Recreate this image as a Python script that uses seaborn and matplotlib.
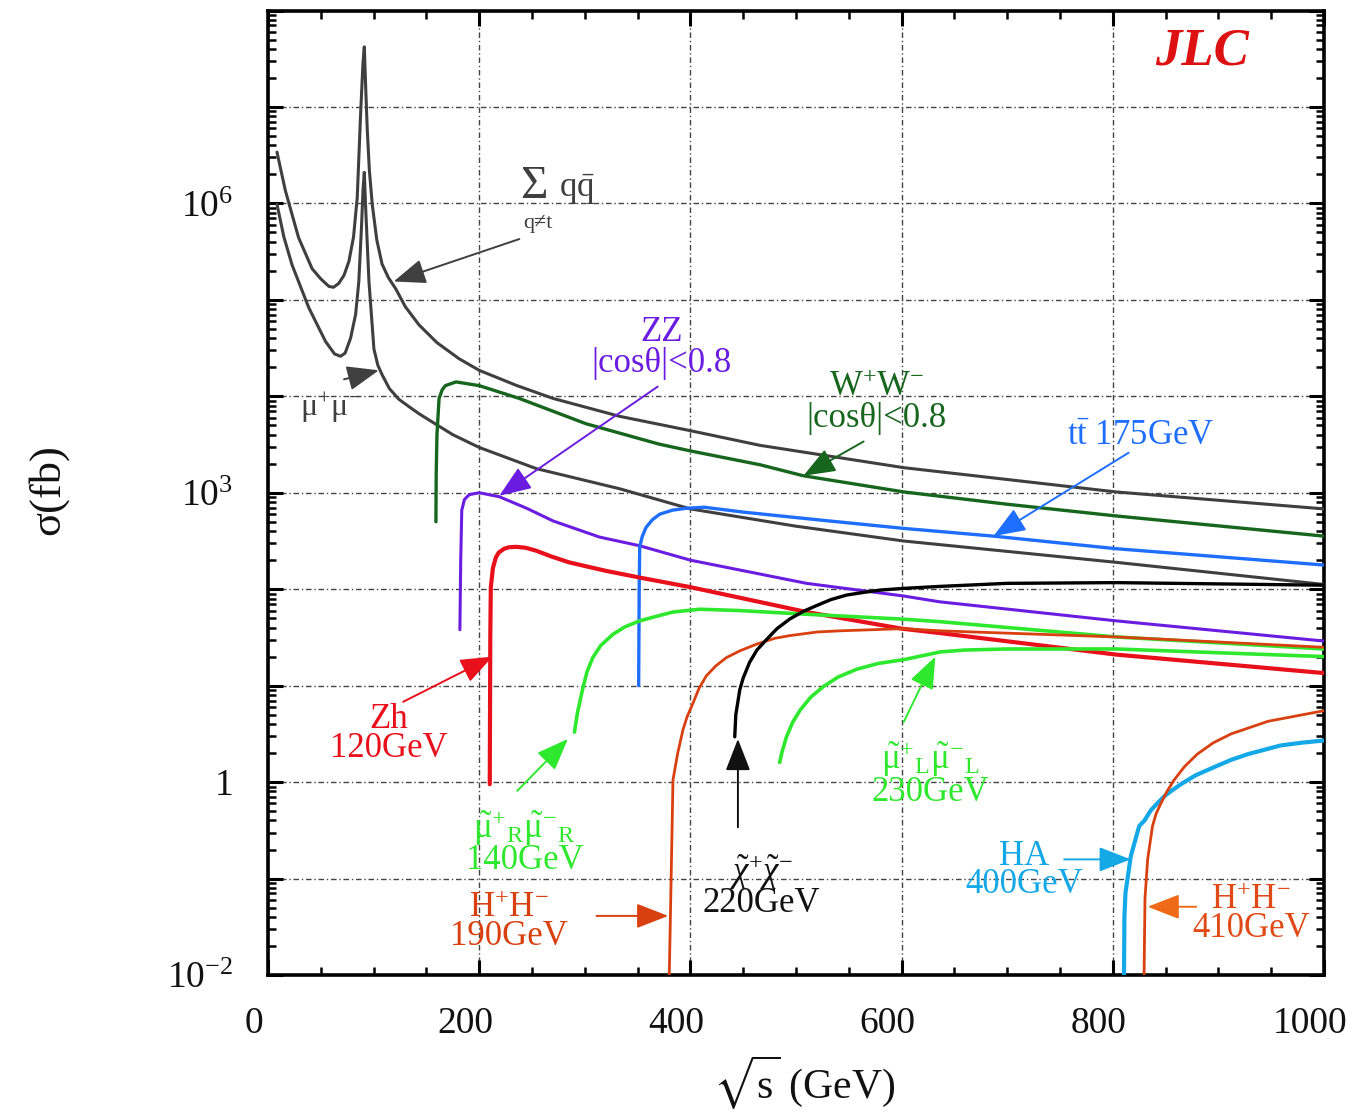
import numpy as np
import pandas as pd
import matplotlib
matplotlib.use("Agg")
import matplotlib.pyplot as plt
import seaborn as sns
from matplotlib.ticker import FixedLocator, FuncFormatter, NullFormatter
from matplotlib.transforms import ScaledTranslation

# ---------------- data (sqrt(s) in GeV, sigma in fb) ----------------
qq_x = [8.5, 16.5, 29, 41.8, 50, 57.6, 62, 67, 72, 76.6, 81, 84.5, 87.7, 89.9, 91.2, 92.5, 94, 96, 98.7,
        103, 108, 114, 121, 130, 143, 160, 181, 200, 235, 270, 333, 400, 466, 602, 803, 1000]
qq_y = [3.4e6, 1.35e6, 4.4e5, 2.1e5, 1.65e5, 1.38e5, 1.35e5, 1.48e5, 1.8e5, 2.5e5, 4.5e5, 1.15e6, 8.5e6, 2.8e7,
        4.2e7, 1.6e7, 5.8e6, 2.2e6, 9.8e5, 4.2e5, 2.35e5, 1.7e5, 1.3e5, 8.5e4, 5.5e4, 3.6e4, 2.45e4, 1.86e4,
        1.3e4, 9.5e3, 6.2e3, 4.4e3, 3.1e3, 1.82e3, 1.02e3, 680]

mumu_x = [8.5, 15, 22.8, 38.6, 54.5, 63, 68.7, 73, 78.2, 83, 86, 88.5, 90, 91.2, 92.5, 95.6, 100.3, 104,
          108.2, 115, 124, 135, 143, 155.7, 175, 200, 254, 333, 400, 500, 602, 803, 1000]
mumu_y = [9.8e5, 4.5e5, 2.3e5, 8.3e4, 3.7e4, 2.75e4, 2.6e4, 2.8e4, 4.0e4, 7.1e4, 1.55e5, 5.6e5, 1.4e6, 2.1e6,
          8.9e5, 1.55e5, 3.1e4, 2.1e4, 1.66e4, 1.2e4, 9.3e3, 7.6e3, 6.6e3, 5.4e3, 4.0e3, 2.95e3, 1.78e3, 1.1e3,
          680, 450, 316, 190, 112]

ww_x = [159, 159.3, 160, 162, 165, 168, 178, 200, 238, 301, 370, 401, 466, 507, 602, 700, 803, 1000]
ww_y = [500, 1580, 4000, 9500, 1.17e4, 1.29e4, 1.41e4, 1.29e4, 9.5e3, 5.2e3, 3.2e3, 2.7e3, 1.95e3, 1.5e3,
        1.02e3, 760, 575, 355]

zz_x = [181.7, 182.5, 183.5, 186, 190.5, 200, 219, 245, 270, 314, 352, 400, 510, 602, 636, 803, 1000]
zz_y = [38, 200, 660, 850, 955, 1000, 910, 690, 510, 347, 282, 200, 115, 85, 74, 47, 29]

zh_x = [210, 210.5, 211, 213, 215.8, 218.5, 223.7, 228, 234.8, 244, 253.8, 268, 285, 300, 320, 352, 400,
        510, 600, 637, 803, 1000]
zh_y = [0.95, 32, 105, 166, 214, 240, 263, 272, 275, 269, 251, 219, 190, 174, 155, 132, 105, 58, 39, 35,
        21, 13.5]

tt_x = [351, 351.5, 352, 354.5, 358, 364, 371, 383, 396, 413, 450, 520, 602, 687, 803, 1000]
tt_y = [10, 100, 275, 355, 437, 525, 600, 660, 690, 708, 630, 525, 427, 355, 263, 178]

smuR_x = [290.2, 293, 298, 302, 307.5, 315, 326.5, 338, 352, 367, 383.5, 409, 447, 510, 600, 637, 803, 1000]
smuR_y = [3.3, 5.2, 9.3, 13.8, 19.5, 26, 34, 40.7, 47, 52, 58, 62, 60, 55, 49, 46, 32, 24]

hh190_x = [380, 382, 383.5, 388, 393, 397, 402.5, 408, 415, 424, 434, 447, 463, 480, 494, 520, 541, 602,
           637, 803, 1000]
hh190_y = [0.01, 0.14, 1.05, 2.0, 3.5, 4.8, 6.6, 9.3, 12.6, 16, 19.5, 23, 27, 31, 33, 36, 37, 39, 37, 32, 25]

chi_x = [442, 443, 446.8, 450, 456, 463, 472, 482, 494, 507, 520, 533, 548, 565, 580, 602, 637, 700, 803, 1000]
chi_y = [2.95, 5, 9.1, 12, 17.4, 23.4, 30, 39, 49, 59, 68, 78, 87, 93, 98, 102, 107, 115, 117, 110]

smuL_x = [484.5, 487, 491, 497, 504, 514, 526, 540, 557.5, 578, 602, 637, 660, 700, 803, 1000]
smuL_y = [1.6, 2.1, 2.95, 4.2, 5.6, 7.6, 9.8, 12.3, 14.8, 17, 18.6, 22.4, 23.4, 24, 24, 20]

ha_x = [810.6, 811, 812, 817, 825, 830, 836, 842, 848.6, 856, 864.5, 878, 896, 912, 928, 959, 980, 1000]
ha_y = [0.01, 0.04, 0.071, 0.17, 0.35, 0.40, 0.51, 0.60, 0.71, 0.82, 0.95, 1.17, 1.43, 1.7, 1.95, 2.4,
        2.57, 2.7]

hh410_x = [829.6, 830.5, 833, 837.6, 841, 845.5, 851, 858, 868, 880, 895, 912, 947, 1000]
hh410_y = [0.01, 0.063, 0.158, 0.35, 0.47, 0.60, 0.79, 1.05, 1.45, 1.95, 2.55, 3.16, 4.27, 5.5]

x_ticks = [0, 200, 400, 600, 800, 1000]
x_ticklabels = ["0", "200", "400", "600", "800", "1000"]
y_labelled = {-2: r"$10^{-2}$", 0: "1", 3: r"$10^{3}$", 6: r"$10^{6}$"}

# ---------------- style ----------------
sns.set_theme(style="ticks")
plt.rcParams["font.family"] = ["Liberation Serif", "DejaVu Serif"]
plt.rcParams["mathtext.fontset"] = "custom"
plt.rcParams["mathtext.rm"] = "Liberation Serif"
plt.rcParams["mathtext.it"] = "Liberation Serif:italic"
plt.rcParams["mathtext.bf"] = "Liberation Serif:bold"
plt.rcParams["mathtext.fallback"] = "stix"

GRAY = "#3f3f3f"
WWC = "#17661e"
ZZC = "#6a1de0"
TTC = "#1e6eff"
ZHC = "#e8101a"
SLC = "#2ee82e"
HHC = "#d9400f"
HAC = "#14a8e6"

fig = plt.figure(figsize=(13.62, 11.16), dpi=100)
ax = fig.add_axes([268 / 1362, 1 - 975 / 1116, (1324 - 268) / 1362, (975 - 10.5) / 1116])
ax.set_yscale("log")

curves = [
    (qq_x, qq_y, GRAY, 2.2),
    (mumu_x, mumu_y, GRAY, 2.2),
    (ww_x, ww_y, WWC, 2.4),
    (zz_x, zz_y, ZZC, 2.2),
    (tt_x, tt_y, TTC, 2.4),
    (zh_x, zh_y, ZHC, 3.0),
    (smuR_x, smuR_y, SLC, 2.6),
    (hh190_x, hh190_y, HHC, 2.0),
    (chi_x, chi_y, "black", 2.4),
    (smuL_x, smuL_y, SLC, 2.6),
    (ha_x, ha_y, HAC, 3.0),
    (hh410_x, hh410_y, HHC, 2.0),
]
for cx, cy, col, lw in curves:
    df = pd.DataFrame({"x": cx, "y": cy})
    sns.lineplot(data=df, x="x", y="y", color=col, lw=lw, sort=False, estimator=None,
                 ax=ax, legend=False, zorder=3)

ax.set_xlim(0, 1000)
ax.set_ylim(1e-2, 1e8)

# ticks
ax.xaxis.set_major_locator(FixedLocator(x_ticks))
ax.set_xticklabels(x_ticklabels)
ax.xaxis.set_minor_locator(FixedLocator(np.arange(0, 1001, 50)))
decades = [10.0 ** k for k in range(-2, 9)]
ax.yaxis.set_major_locator(FixedLocator(decades))
minors = [m * 10.0 ** k for k in range(-2, 8) for m in range(2, 10)]
ax.yaxis.set_minor_locator(FixedLocator(minors))
ax.yaxis.set_minor_formatter(NullFormatter())


def yfmt(v, pos):
    k = int(round(np.log10(v)))
    return y_labelled.get(k, "")


ax.yaxis.set_major_formatter(FuncFormatter(yfmt))
ax.tick_params(which="major", direction="in", length=11, width=2.2, top=True, right=True,
               color="black", labelcolor="#111111")
ax.tick_params(which="minor", direction="in", length=6, width=1.8, top=True, right=True, color="black")
ax.tick_params(axis="x", which="major", labelsize=27, pad=23)
ax.tick_params(axis="y", which="major", labelsize=27, pad=25)
for lab in ax.get_xticklabels():
    lab.set_transform(lab.get_transform() + ScaledTranslation(-0.14, 0, fig.dpi_scale_trans))

for sp in ax.spines.values():
    sp.set_linewidth(2.6)
    sp.set_color("black")

ax.grid(True, which="major", color="#444444", lw=1.0, ls=(0, (4, 2, 1, 2)), zorder=1)

# axis labels
ax.set_xlabel(r"$\sqrt{\mathrm{s}}$ (GeV)", fontsize=30, color="#111111")
ax.xaxis.set_label_coords(0.508, -0.112)
ax.xaxis.label.set_va("center")
ax.set_ylabel("σ(fb)", fontsize=32, color="#111111")
ax.yaxis.set_label_coords(-0.209, 0.503)
ax.yaxis.label.set_va("center")

# ---------------- annotations ----------------
def txt(x, y, s, c, fs=25, ls=0.95, **kw):
    ax.text(x, y, s, color=c, fontsize=fs, ha="center", va="center", zorder=5,
            linespacing=ls, multialignment="center", **kw)


def arr(tail, tip, c, lw=1.4):
    ax.annotate("", xy=tip, xytext=tail,
                arrowprops=dict(arrowstyle="-|>,head_length=0.9,head_width=0.35", color=c, lw=lw,
                                shrinkA=0, shrinkB=0, mutation_scale=22), zorder=5)


txt(252, 10 ** 6.17, "Σ", GRAY, fs=34)
txt(293, 10 ** 6.14, r"q$\bar{\mathrm{q}}$", GRAY, fs=25)
txt(256, 10 ** 5.79, "q≠t", GRAY, fs=16)
arr((238, 4.27e5), (119, 1.55e5), GRAY)

txt(60, 10 ** 3.88, r"$\mathrm{\mu^{+}\mu^{-}}$", GRAY, fs=23)
arr((72, 1.5e4), (105, 1.86e4), GRAY)

txt(373, 10 ** 4.50, "ZZ\n|cosθ|<0.8", ZZC, ls=0.9)
arr((369, 1.26e4), (219, 930), ZZC)

txt(576, 10 ** 3.93, "W$^{+}$W$^{-}$\n|cosθ|<0.8", WWC, ls=0.9)
arr((564, 3.4e3), (507, 1.5e3), WWC)

txt(826, 10 ** 3.58, r"$\mathrm{t\bar{t}}$ 175GeV", TTC)
arr((815, 2.6e3), (687, 355), TTC)

txt(884, 10 ** 7.58, "JLC", "#dd1111", fs=38, fontweight="bold", fontstyle="italic")

txt(114.6, 10 ** 0.50, "Zh\n120GeV", ZHC, ls=0.85)
arr((128, 6.8), (212.6, 20), ZHC)

txt(243, 10 ** -0.63,
    "$\\tilde{\\mathrm{\\mu}}^{+}{}_{\\mathrm{R}}\\tilde{\\mathrm{\\mu}}^{-}{}_{\\mathrm{R}}$\n140GeV",
    SLC, ls=0.85)
arr((236, 0.81), (284, 2.8), SLC)

txt(228.5, 10 ** -1.46, "H$^{+}$H$^{-}$\n190GeV", HHC, ls=0.8)
arr((311, 0.041), (379, 0.041), HHC)

txt(467, 10 ** -1.08, "$\\tilde{\\chi}^{+}\\tilde{\\chi}^{-}$\n220GeV", "#111111", ls=0.8)
arr((445, 0.34), (445, 2.8), "#111111")

txt(627, 10 ** 0.08,
    "$\\tilde{\\mathrm{\\mu}}^{+}{}_{\\mathrm{L}}\\tilde{\\mathrm{\\mu}}^{-}{}_{\\mathrm{L}}$\n230GeV",
    SLC, ls=0.85)
arr((602, 4.2), (632, 20), SLC)

txt(716, 10 ** -0.92, "HA\n400GeV", HAC, ls=0.8)
arr((754, 0.158), (817, 0.158), HAC)

txt(931, 10 ** -1.37, "H$^{+}$H$^{-}$\n410GeV", "#e04a16", ls=0.8)
arr((879, 0.051), (833, 0.051), "#ee6a16")

fig.savefig("out.png", dpi=100, facecolor="white")
